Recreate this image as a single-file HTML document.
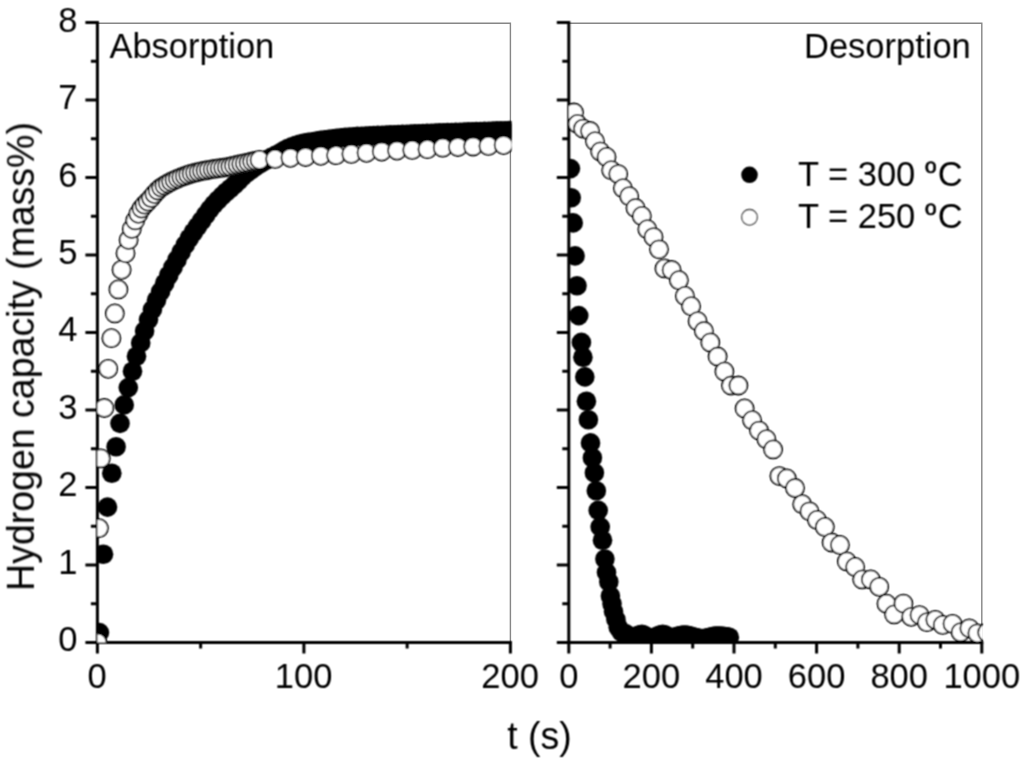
<!DOCTYPE html>
<html lang="en">
<head>
<meta charset="utf-8">
<title>Hydrogen absorption and desorption kinetics</title>
<style>
html,body{margin:0;padding:0;background:#fff;}
body{width:1024px;height:765px;overflow:hidden;}
svg{display:block;}
</style>
</head>
<body>
<svg width="1024" height="765" viewBox="0 0 1024 765">
<defs>
<clipPath id="cl"><rect x="97.4" y="22.6" width="414.2" height="619.9"/></clipPath>
<clipPath id="cr"><rect x="568.8" y="22.6" width="414.2" height="619.9"/></clipPath>
<filter id="soft" x="0" y="0" width="1024" height="765" filterUnits="userSpaceOnUse"><feConvolveMatrix order="3" kernelMatrix="1 2 1 2 4 2 1 2 1" divisor="16" edgeMode="duplicate" preserveAlpha="false"/></filter>
</defs>
<rect width="1024" height="765" fill="#fff"/>
<path d="M97.4 23.2H510.4V642.5" fill="none" stroke="#868686" stroke-width="1.4"/>
<path d="M568.8 23.2H981.8V642.5" fill="none" stroke="#868686" stroke-width="1.4"/>
<g filter="url(#soft)">
<g stroke="#000" stroke-width="3.0" fill="none">
<path d="M97.4 21.10V653.5"/>
<path d="M85.4 642.5H511.90"/>
<path d="M85.4 565.01H97.4M85.4 487.52H97.4M85.4 410.04H97.4M85.4 332.55H97.4M85.4 255.06H97.4M85.4 177.58H97.4M85.4 100.09H97.4M85.4 22.60H97.4M90.9 603.76H97.4M90.9 526.27H97.4M90.9 448.78H97.4M90.9 371.29H97.4M90.9 293.81H97.4M90.9 216.32H97.4M90.9 138.83H97.4M90.9 61.34H97.4M303.90 642.5V653.5M510.40 642.5V653.5M200.65 642.5V648.5M407.15 642.5V648.5"/>
</g>
<g stroke="#000" stroke-width="3.0" fill="none">
<path d="M568.8 21.10V653.5"/>
<path d="M556.8 642.5H983.30"/>
<path d="M556.8 565.01H568.8M556.8 487.52H568.8M556.8 410.04H568.8M556.8 332.55H568.8M556.8 255.06H568.8M556.8 177.58H568.8M556.8 100.09H568.8M556.8 22.60H568.8M562.3 603.76H568.8M562.3 526.27H568.8M562.3 448.78H568.8M562.3 371.29H568.8M562.3 293.81H568.8M562.3 216.32H568.8M562.3 138.83H568.8M562.3 61.34H568.8M651.40 642.5V653.5M734.00 642.5V653.5M816.60 642.5V653.5M899.20 642.5V653.5M981.80 642.5V653.5M610.10 642.5V648.5M692.70 642.5V648.5M775.30 642.5V648.5M857.90 642.5V648.5M940.50 642.5V648.5"/>
</g>
<g clip-path="url(#cl)">
<g fill="#000"><circle cx="99.4" cy="632.6" r="9.8"/>
<circle cx="103.5" cy="554.3" r="9.8"/>
<circle cx="107.5" cy="507.1" r="9.8"/>
<circle cx="111.8" cy="473.3" r="9.8"/>
<circle cx="116.1" cy="446.7" r="9.8"/>
<circle cx="120.0" cy="423.4" r="9.8"/>
<circle cx="124.2" cy="404.9" r="9.8"/>
<circle cx="128.3" cy="387.6" r="9.8"/>
<circle cx="132.5" cy="371.2" r="9.8"/>
<circle cx="136.5" cy="356.3" r="9.8"/>
<circle cx="140.7" cy="342.9" r="9.8"/>
<circle cx="144.6" cy="331.0" r="9.8"/>
<circle cx="148.5" cy="319.6" r="9.8"/>
<circle cx="152.4" cy="309.6" r="9.8"/>
<circle cx="156.5" cy="300.3" r="9.8"/>
<circle cx="160.6" cy="291.6" r="9.8"/>
<circle cx="164.7" cy="283.3" r="9.8"/>
<circle cx="168.8" cy="275.2" r="9.8"/>
<circle cx="172.9" cy="267.4" r="9.8"/>
<circle cx="177.0" cy="259.7" r="9.8"/>
<circle cx="181.1" cy="252.1" r="9.8"/>
<circle cx="185.2" cy="244.9" r="9.8"/>
<circle cx="189.3" cy="238.3" r="9.8"/>
<circle cx="193.4" cy="232.3" r="9.8"/>
<circle cx="197.5" cy="226.5" r="9.8"/>
<circle cx="201.6" cy="220.8" r="9.8"/>
<circle cx="205.7" cy="215.0" r="9.8"/>
<circle cx="209.8" cy="209.4" r="9.8"/>
<circle cx="213.9" cy="204.4" r="9.8"/>
<circle cx="218.0" cy="200.0" r="9.8"/>
<circle cx="222.1" cy="195.9" r="9.8"/>
<circle cx="226.2" cy="192.0" r="9.8"/>
<circle cx="230.3" cy="188.5" r="9.8"/>
<circle cx="234.4" cy="184.9" r="9.8"/>
<circle cx="238.5" cy="180.8" r="9.8"/>
<circle cx="242.6" cy="176.6" r="9.8"/>
<circle cx="246.7" cy="173.1" r="9.8"/>
<circle cx="250.8" cy="170.0" r="9.8"/>
<circle cx="254.9" cy="167.1" r="9.8"/>
<circle cx="259.0" cy="164.4" r="9.8"/>
<circle cx="263.1" cy="161.9" r="9.8"/>
<circle cx="267.2" cy="159.5" r="9.8"/>
<circle cx="271.3" cy="157.4" r="9.8"/>
<circle cx="275.4" cy="155.4" r="9.8"/>
<circle cx="279.5" cy="153.3" r="9.8"/>
<circle cx="283.6" cy="150.8" r="9.8"/>
<circle cx="287.7" cy="148.5" r="9.8"/>
<circle cx="291.8" cy="146.8" r="9.8"/>
<circle cx="295.9" cy="145.3" r="9.8"/>
<circle cx="300.0" cy="144.1" r="9.8"/>
<circle cx="304.1" cy="143.1" r="9.8"/>
<circle cx="308.2" cy="142.4" r="9.8"/>
<circle cx="312.3" cy="141.7" r="9.8"/>
<circle cx="316.4" cy="141.0" r="9.8"/>
<circle cx="320.5" cy="140.4" r="9.8"/>
<circle cx="324.6" cy="139.8" r="9.8"/>
<circle cx="328.7" cy="139.2" r="9.8"/>
<circle cx="332.8" cy="138.7" r="9.8"/>
<circle cx="336.9" cy="138.2" r="9.8"/>
<circle cx="341.0" cy="137.8" r="9.8"/>
<circle cx="345.1" cy="137.4" r="9.8"/>
<circle cx="349.2" cy="137.1" r="9.8"/>
<circle cx="353.3" cy="136.7" r="9.8"/>
<circle cx="357.4" cy="136.4" r="9.8"/>
<circle cx="361.5" cy="136.2" r="9.8"/>
<circle cx="365.6" cy="136.0" r="9.8"/>
<circle cx="369.7" cy="135.8" r="9.8"/>
<circle cx="373.8" cy="135.6" r="9.8"/>
<circle cx="377.9" cy="135.4" r="9.8"/>
<circle cx="382.0" cy="135.3" r="9.8"/>
<circle cx="386.1" cy="135.1" r="9.8"/>
<circle cx="390.2" cy="134.9" r="9.8"/>
<circle cx="394.3" cy="134.7" r="9.8"/>
<circle cx="398.4" cy="134.6" r="9.8"/>
<circle cx="402.5" cy="134.4" r="9.8"/>
<circle cx="406.6" cy="134.2" r="9.8"/>
<circle cx="410.7" cy="134.0" r="9.8"/>
<circle cx="414.8" cy="133.9" r="9.8"/>
<circle cx="418.9" cy="133.7" r="9.8"/>
<circle cx="423.0" cy="133.6" r="9.8"/>
<circle cx="427.1" cy="133.4" r="9.8"/>
<circle cx="431.2" cy="133.2" r="9.8"/>
<circle cx="435.3" cy="133.1" r="9.8"/>
<circle cx="439.4" cy="132.9" r="9.8"/>
<circle cx="443.5" cy="132.8" r="9.8"/>
<circle cx="447.6" cy="132.6" r="9.8"/>
<circle cx="451.7" cy="132.5" r="9.8"/>
<circle cx="455.8" cy="132.3" r="9.8"/>
<circle cx="459.9" cy="132.2" r="9.8"/>
<circle cx="464.0" cy="132.0" r="9.8"/>
<circle cx="468.1" cy="131.9" r="9.8"/>
<circle cx="472.2" cy="131.7" r="9.8"/>
<circle cx="476.3" cy="131.6" r="9.8"/>
<circle cx="480.4" cy="131.5" r="9.8"/>
<circle cx="484.5" cy="131.3" r="9.8"/>
<circle cx="488.6" cy="131.2" r="9.8"/>
<circle cx="492.7" cy="131.1" r="9.8"/>
<circle cx="496.8" cy="130.9" r="9.8"/>
<circle cx="500.9" cy="130.8" r="9.8"/>
<circle cx="505.0" cy="130.7" r="9.8"/>
<circle cx="509.1" cy="130.5" r="9.8"/></g>
<g fill="#fff" stroke="#111" stroke-width="1.8"><circle cx="97.5" cy="642.5" r="9.0"/>
<circle cx="98.9" cy="528.2" r="9.0"/>
<circle cx="100.8" cy="458.4" r="9.0"/>
<circle cx="104.3" cy="408.0" r="9.0"/>
<circle cx="108.2" cy="368.8" r="9.0"/>
<circle cx="111.4" cy="338.2" r="9.0"/>
<circle cx="114.8" cy="313.4" r="9.0"/>
<circle cx="118.4" cy="289.4" r="9.0"/>
<circle cx="121.6" cy="269.8" r="9.0"/>
<circle cx="125.5" cy="253.3" r="9.0"/>
<circle cx="128.6" cy="240.0" r="9.0"/>
<circle cx="131.8" cy="229.0" r="9.0"/>
<circle cx="135.2" cy="220.4" r="9.0"/>
<circle cx="138.4" cy="213.8" r="9.0"/>
<circle cx="141.5" cy="208.6" r="9.0"/>
<circle cx="144.6" cy="204.7" r="9.0"/>
<circle cx="147.8" cy="201.6" r="9.0"/>
<circle cx="151.1" cy="198.0" r="9.0"/>
<circle cx="154.4" cy="194.1" r="9.0"/>
<circle cx="157.7" cy="190.5" r="9.0"/>
<circle cx="161.1" cy="187.6" r="9.0"/>
<circle cx="164.4" cy="185.4" r="9.0"/>
<circle cx="167.8" cy="183.4" r="9.0"/>
<circle cx="171.1" cy="181.7" r="9.0"/>
<circle cx="174.5" cy="180.1" r="9.0"/>
<circle cx="177.9" cy="178.6" r="9.0"/>
<circle cx="181.3" cy="177.2" r="9.0"/>
<circle cx="184.8" cy="175.9" r="9.0"/>
<circle cx="188.2" cy="174.7" r="9.0"/>
<circle cx="191.6" cy="173.6" r="9.0"/>
<circle cx="195.1" cy="172.7" r="9.0"/>
<circle cx="198.6" cy="171.9" r="9.0"/>
<circle cx="202.0" cy="171.1" r="9.0"/>
<circle cx="205.5" cy="170.4" r="9.0"/>
<circle cx="209.0" cy="169.8" r="9.0"/>
<circle cx="212.6" cy="169.2" r="9.0"/>
<circle cx="216.1" cy="168.7" r="9.0"/>
<circle cx="219.6" cy="168.2" r="9.0"/>
<circle cx="223.2" cy="167.7" r="9.0"/>
<circle cx="226.8" cy="167.1" r="9.0"/>
<circle cx="230.3" cy="166.4" r="9.0"/>
<circle cx="233.9" cy="165.6" r="9.0"/>
<circle cx="237.6" cy="164.7" r="9.0"/>
<circle cx="241.2" cy="163.9" r="9.0"/>
<circle cx="244.8" cy="163.2" r="9.0"/>
<circle cx="248.5" cy="162.4" r="9.0"/>
<circle cx="252.1" cy="161.5" r="9.0"/>
<circle cx="255.8" cy="160.7" r="9.0"/>
<circle cx="259.5" cy="159.9" r="9.0"/>
<circle cx="275.1" cy="158.9" r="9.0"/>
<circle cx="290.4" cy="157.8" r="9.0"/>
<circle cx="305.6" cy="157.0" r="9.0"/>
<circle cx="320.8" cy="155.8" r="9.0"/>
<circle cx="336.0" cy="155.2" r="9.0"/>
<circle cx="351.3" cy="153.9" r="9.0"/>
<circle cx="366.5" cy="152.8" r="9.0"/>
<circle cx="381.7" cy="151.6" r="9.0"/>
<circle cx="397.0" cy="150.6" r="9.0"/>
<circle cx="412.2" cy="149.9" r="9.0"/>
<circle cx="427.4" cy="149.2" r="9.0"/>
<circle cx="442.7" cy="147.7" r="9.0"/>
<circle cx="457.9" cy="147.0" r="9.0"/>
<circle cx="473.1" cy="146.5" r="9.0"/>
<circle cx="488.4" cy="145.9" r="9.0"/>
<circle cx="503.6" cy="145.1" r="9.0"/></g>
</g>
<g clip-path="url(#cr)">
<g fill="#000"><circle cx="570.4" cy="168.6" r="9.8"/>
<circle cx="571.2" cy="197.8" r="9.8"/>
<circle cx="573.2" cy="222.9" r="9.8"/>
<circle cx="575.1" cy="255.9" r="9.8"/>
<circle cx="577.0" cy="285.7" r="9.8"/>
<circle cx="578.7" cy="315.6" r="9.8"/>
<circle cx="581.4" cy="342.4" r="9.8"/>
<circle cx="582.9" cy="357.3" r="9.8"/>
<circle cx="584.8" cy="376.9" r="9.8"/>
<circle cx="586.4" cy="401.2" r="9.8"/>
<circle cx="588.4" cy="419.7" r="9.8"/>
<circle cx="590.5" cy="442.9" r="9.8"/>
<circle cx="592.4" cy="457.8" r="9.8"/>
<circle cx="594.4" cy="472.7" r="9.8"/>
<circle cx="596.3" cy="490.8" r="9.8"/>
<circle cx="598.2" cy="510.4" r="9.8"/>
<circle cx="600.2" cy="526.9" r="9.8"/>
<circle cx="602.5" cy="540.2" r="9.8"/>
<circle cx="604.9" cy="559.0" r="9.8"/>
<circle cx="606.5" cy="572.4" r="9.8"/>
<circle cx="608.8" cy="581.8" r="9.8"/>
<circle cx="610.4" cy="595.9" r="9.8"/>
<circle cx="612.0" cy="603.7" r="9.8"/>
<circle cx="613.5" cy="611.6" r="9.8"/>
<circle cx="615.9" cy="619.4" r="9.8"/>
<circle cx="618.2" cy="627.3" r="9.8"/>
<circle cx="621.4" cy="632.0" r="9.8"/>
<circle cx="625.3" cy="633.5" r="9.8"/>
<circle cx="627.4" cy="635.4" r="9.8"/>
<circle cx="629.5" cy="636.6" r="9.8"/>
<circle cx="631.5" cy="637.2" r="9.8"/>
<circle cx="633.6" cy="637.2" r="9.8"/>
<circle cx="635.7" cy="636.5" r="9.8"/>
<circle cx="637.8" cy="635.5" r="9.8"/>
<circle cx="639.9" cy="634.7" r="9.8"/>
<circle cx="641.9" cy="634.4" r="9.8"/>
<circle cx="644.0" cy="635.1" r="9.8"/>
<circle cx="646.1" cy="636.4" r="9.8"/>
<circle cx="648.2" cy="637.6" r="9.8"/>
<circle cx="650.3" cy="638.3" r="9.8"/>
<circle cx="652.3" cy="638.1" r="9.8"/>
<circle cx="654.4" cy="637.4" r="9.8"/>
<circle cx="656.5" cy="636.5" r="9.8"/>
<circle cx="658.6" cy="635.6" r="9.8"/>
<circle cx="660.7" cy="634.8" r="9.8"/>
<circle cx="662.7" cy="634.4" r="9.8"/>
<circle cx="664.8" cy="634.8" r="9.8"/>
<circle cx="666.9" cy="636.0" r="9.8"/>
<circle cx="669.0" cy="637.3" r="9.8"/>
<circle cx="671.1" cy="637.8" r="9.8"/>
<circle cx="673.1" cy="637.5" r="9.8"/>
<circle cx="675.2" cy="637.0" r="9.8"/>
<circle cx="677.3" cy="636.4" r="9.8"/>
<circle cx="679.4" cy="635.7" r="9.8"/>
<circle cx="681.5" cy="635.2" r="9.8"/>
<circle cx="683.5" cy="635.0" r="9.8"/>
<circle cx="685.6" cy="635.1" r="9.8"/>
<circle cx="687.7" cy="635.4" r="9.8"/>
<circle cx="689.8" cy="635.9" r="9.8"/>
<circle cx="691.9" cy="636.5" r="9.8"/>
<circle cx="693.9" cy="637.1" r="9.8"/>
<circle cx="696.0" cy="637.6" r="9.8"/>
<circle cx="698.1" cy="638.1" r="9.8"/>
<circle cx="700.2" cy="638.5" r="9.8"/>
<circle cx="702.3" cy="638.6" r="9.8"/>
<circle cx="704.3" cy="638.5" r="9.8"/>
<circle cx="706.4" cy="638.1" r="9.8"/>
<circle cx="708.5" cy="637.6" r="9.8"/>
<circle cx="710.6" cy="637.0" r="9.8"/>
<circle cx="712.7" cy="636.5" r="9.8"/>
<circle cx="714.7" cy="636.1" r="9.8"/>
<circle cx="716.8" cy="636.0" r="9.8"/>
<circle cx="718.9" cy="636.0" r="9.8"/>
<circle cx="721.0" cy="636.1" r="9.8"/>
<circle cx="723.1" cy="636.3" r="9.8"/>
<circle cx="725.1" cy="636.5" r="9.8"/>
<circle cx="727.2" cy="636.8" r="9.8"/>
<circle cx="729.3" cy="637.2" r="9.8"/></g>
<g fill="#fff" stroke="#111" stroke-width="1.8"><circle cx="574.0" cy="112.5" r="9.0"/>
<circle cx="577.5" cy="123.9" r="9.0"/>
<circle cx="583.0" cy="128.6" r="9.0"/>
<circle cx="590.0" cy="131.0" r="9.0"/>
<circle cx="595.0" cy="141.2" r="9.0"/>
<circle cx="600.2" cy="151.4" r="9.0"/>
<circle cx="606.5" cy="156.9" r="9.0"/>
<circle cx="611.2" cy="170.2" r="9.0"/>
<circle cx="618.2" cy="174.1" r="9.0"/>
<circle cx="622.9" cy="188.2" r="9.0"/>
<circle cx="629.2" cy="196.2" r="9.0"/>
<circle cx="635.5" cy="208.0" r="9.0"/>
<circle cx="641.8" cy="215.9" r="9.0"/>
<circle cx="647.3" cy="229.2" r="9.0"/>
<circle cx="653.5" cy="237.1" r="9.0"/>
<circle cx="659.0" cy="249.3" r="9.0"/>
<circle cx="664.5" cy="268.4" r="9.0"/>
<circle cx="671.6" cy="270.0" r="9.0"/>
<circle cx="678.9" cy="280.2" r="9.0"/>
<circle cx="684.9" cy="295.9" r="9.0"/>
<circle cx="691.1" cy="306.2" r="9.0"/>
<circle cx="697.6" cy="321.2" r="9.0"/>
<circle cx="703.9" cy="331.0" r="9.0"/>
<circle cx="710.3" cy="342.4" r="9.0"/>
<circle cx="717.6" cy="356.5" r="9.0"/>
<circle cx="724.4" cy="371.4" r="9.0"/>
<circle cx="731.0" cy="385.5" r="9.0"/>
<circle cx="738.4" cy="385.5" r="9.0"/>
<circle cx="744.6" cy="408.4" r="9.0"/>
<circle cx="752.1" cy="420.2" r="9.0"/>
<circle cx="759.0" cy="430.6" r="9.0"/>
<circle cx="766.4" cy="439.2" r="9.0"/>
<circle cx="773.1" cy="449.4" r="9.0"/>
<circle cx="779.4" cy="476.1" r="9.0"/>
<circle cx="786.8" cy="478.4" r="9.0"/>
<circle cx="795.0" cy="488.0" r="9.0"/>
<circle cx="802.2" cy="504.2" r="9.0"/>
<circle cx="809.4" cy="511.3" r="9.0"/>
<circle cx="817.0" cy="519.9" r="9.0"/>
<circle cx="824.8" cy="526.9" r="9.0"/>
<circle cx="831.6" cy="542.5" r="9.0"/>
<circle cx="839.9" cy="544.9" r="9.0"/>
<circle cx="846.8" cy="561.4" r="9.0"/>
<circle cx="855.1" cy="566.9" r="9.0"/>
<circle cx="862.2" cy="579.4" r="9.0"/>
<circle cx="870.8" cy="579.4" r="9.0"/>
<circle cx="879.2" cy="586.8" r="9.0"/>
<circle cx="886.5" cy="603.7" r="9.0"/>
<circle cx="894.1" cy="614.4" r="9.0"/>
<circle cx="903.4" cy="603.6" r="9.0"/>
<circle cx="911.2" cy="616.8" r="9.0"/>
<circle cx="919.5" cy="615.1" r="9.0"/>
<circle cx="926.9" cy="622.2" r="9.0"/>
<circle cx="935.3" cy="619.8" r="9.0"/>
<circle cx="942.7" cy="624.9" r="9.0"/>
<circle cx="952.5" cy="623.8" r="9.0"/>
<circle cx="960.6" cy="632.2" r="9.0"/>
<circle cx="969.3" cy="628.3" r="9.0"/>
<circle cx="977.3" cy="633.3" r="9.0"/>
<circle cx="987.1" cy="632.4" r="9.0"/></g>
</g>
<g font-family="'Liberation Sans', Arial, Helvetica, sans-serif" font-size="34.5" fill="#000">
<text transform="translate(77.4 651.4) scale(1 1.04)" text-anchor="end">0</text>
<text transform="translate(77.4 573.9) scale(1 1.04)" text-anchor="end">1</text>
<text transform="translate(77.4 496.4) scale(1 1.04)" text-anchor="end">2</text>
<text transform="translate(77.4 418.9) scale(1 1.04)" text-anchor="end">3</text>
<text transform="translate(77.4 341.4) scale(1 1.04)" text-anchor="end">4</text>
<text transform="translate(77.4 264.0) scale(1 1.04)" text-anchor="end">5</text>
<text transform="translate(77.4 186.5) scale(1 1.04)" text-anchor="end">6</text>
<text transform="translate(77.4 109.0) scale(1 1.04)" text-anchor="end">7</text>
<text transform="translate(77.4 31.5) scale(1 1.04)" text-anchor="end">8</text>
<text transform="translate(97.1 688.4) scale(1 1.04)" text-anchor="middle">0</text>
<text transform="translate(303.6 688.4) scale(1 1.04)" text-anchor="middle">100</text>
<text transform="translate(510.1 688.4) scale(1 1.04)" text-anchor="middle">200</text>
<text transform="translate(568.8 688.4) scale(1 1.04)" text-anchor="middle">0</text>
<text transform="translate(651.4 688.4) scale(1 1.04)" text-anchor="middle">200</text>
<text transform="translate(734.0 688.4) scale(1 1.04)" text-anchor="middle">400</text>
<text transform="translate(816.6 688.4) scale(1 1.04)" text-anchor="middle">600</text>
<text transform="translate(899.2 688.4) scale(1 1.04)" text-anchor="middle">800</text>
<text transform="translate(981.8 688.4) scale(1 1.04)" text-anchor="middle">1000</text>
<text transform="translate(109.4 58.2) scale(1 1.04)">Absorption</text>
<text transform="translate(970.8 58.4) scale(1 1.04)" text-anchor="end">Desorption</text>
<text transform="translate(798.0 185.6) scale(1 1.04)">T = 300 </text>
<text transform="translate(925.2 182.8) scale(1 1.04)" font-size="30" stroke="#000" stroke-width="0.55">º</text>
<text transform="translate(937.7 185.6) scale(1 1.04)">C</text>
<text transform="translate(798.0 227.5) scale(1 1.04)">T = 250 </text>
<text transform="translate(925.2 224.7) scale(1 1.04)" font-size="30" stroke="#000" stroke-width="0.55">º</text>
<text transform="translate(937.7 227.5) scale(1 1.04)">C</text>
<text transform="translate(539.5 748.6) scale(1 1.04)" text-anchor="middle" font-size="37.5">t (s)</text>
<text transform="translate(34.3 356.5) rotate(-90) scale(1 1.04)" text-anchor="middle" font-size="37.5">Hydrogen capacity (mass%)</text>
</g>
<circle cx="749.5" cy="174.8" r="8.3" fill="#000"/>
<circle cx="749.5" cy="217.3" r="7.8" fill="#fff" stroke="#444" stroke-width="1.3"/>
</g>
</svg>
</body>
</html>
